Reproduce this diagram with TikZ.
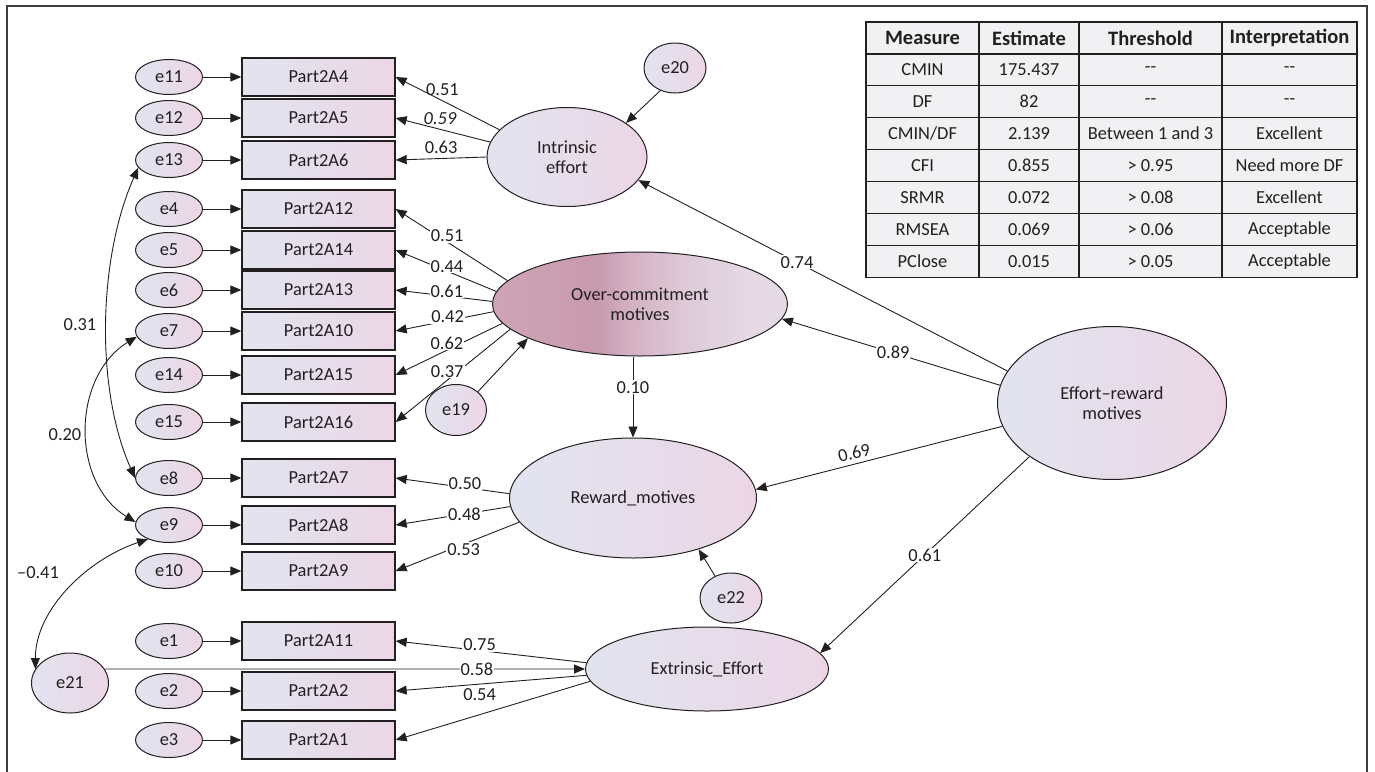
\documentclass[tikz,border=0pt]{standalone}
\usepackage{fontspec}
\setmainfont{Carlito}
\usetikzlibrary{shapes.geometric,arrows.meta}

\definecolor{ink}{HTML}{231F20}
\definecolor{frame}{HTML}{3C3C3C}
\definecolor{boxL}{HTML}{E1E4EF}
\definecolor{boxR}{HTML}{ECD6E6}
\definecolor{ocL}{HTML}{CFA4B6}
\definecolor{ocD}{HTML}{C89AAF}
\definecolor{ocM}{HTML}{D2B0C1}
\definecolor{ocN}{HTML}{DDC8D6}
\definecolor{ocR}{HTML}{E5D9E6}
\definecolor{cellgrey}{HTML}{F1F1F3}

\pgfdeclarehorizontalshading{ocshade}{100bp}{color(0bp)=(ocL); color(25bp)=(ocL); color(43bp)=(ocD); color(48bp)=(ocM); color(57bp)=(ocN); color(68bp)=(ocR); color(100bp)=(ocR)}

\begin{document}
\begin{tikzpicture}[x=1pt,y=-1pt,
    every node/.style={font=\fontsize{18.4}{19.5}\selectfont, text=ink},
    obsbox/.style={draw=ink, line width=1.3pt, left color=boxL, right color=boxR, minimum width=153pt, minimum height=38pt, inner sep=0pt},
    errnode/.style={ellipse, draw=ink, line width=1pt, left color=boxL, right color=boxR, minimum width=67pt, minimum height=35pt, inner sep=0pt},
    latent/.style={ellipse, draw=ink, line width=1pt, left color=boxL, right color=boxR, inner sep=0pt, align=center},
    regarrow/.style={draw=ink, line width=0.9pt, -{Triangle[length=11pt,width=9pt]}},
    corarrow/.style={draw=ink, line width=0.9pt, {Triangle[length=11pt,width=9pt]}-{Triangle[length=11pt,width=9pt]}},
    coeflabel/.style={fill=white, inner sep=1pt},
    cellbox/.style={draw=ink, line width=1.2pt, fill=cellgrey, minimum width=#1, minimum height=31.9pt, inner sep=0pt}]

    \useasboundingbox (0,0) rectangle (1375,771);
    \draw[line width=1.2pt, draw=frame] (7,775) -- (7,6) -- (1367,6) -- (1367,775);

    % error terms and indicators
    \foreach \e/\p/\y in {e11/A4/77, e12/A5/118, e13/A6/160, e4/A12/209, e5/A14/250, e6/A13/290, e7/A10/331, e14/A15/375, e15/A16/422, e8/A7/478, e9/A8/525, e10/A9/571, e1/A11/641, e2/A2/691, e3/A1/740}
    {
        \node[errnode] (\e) at (169,\y) {\e};
        \node[obsbox] (\p) at (318.5,\y) {Part2\p};
        \draw[regarrow] (\e) -- (\p);
    }

    % latent variables
    \node[latent, minimum width=160pt, minimum height=99pt] (ie) at (567,157) {Intrinsic\\effort};
    \node[ellipse, draw=ink, line width=1pt, shade, shading=ocshade, minimum width=295pt, minimum height=104pt, inner sep=0pt, align=center] (oc) at (640,304) {Over-commitment\\motives};
    \node[latent, minimum width=247pt, minimum height=120pt] (rm) at (633,498) {Reward\_motives};
    \node[latent, minimum width=243pt, minimum height=84pt] (ee) at (707,669) {Extrinsic\_Effort};
    \node[latent, minimum width=229pt, minimum height=153pt] (er) at (1112,403) {Effort--reward\\motives};

    \node[errnode, minimum width=62pt, minimum height=50pt] (e20) at (675,68) {e20};
    \node[errnode, minimum width=61pt, minimum height=51pt] (e19) at (456,410) {e19};
    \node[errnode, minimum width=62pt, minimum height=50pt] (e22) at (731,598) {e22};
    \node[errnode, minimum width=77pt, minimum height=60pt] (e21) at (70,683) {e21};

    % loadings
    \draw[regarrow] (ie.158) -- node[pos=.55, above=1pt] (l4) {0.51} (A4.east);
    \draw[regarrow] (ie.169) -- node[pos=.53, above=1pt] (l5) {\textit{0.59}} (A5.east);
    \draw[regarrow] (ie.180) -- node[pos=.5, above=1pt] (l6) {0.63} (A6.east);

    \draw[regarrow] (oc.170) -- node[coeflabel, pos=.54, yshift=6pt] (l12) {0.51} (A12.east);
    \draw[regarrow] (oc.175) -- node[coeflabel, pos=.49, yshift=5pt] (l14) {0.44} (A14.east);
    \draw[regarrow] (oc.179) -- node[coeflabel, pos=.47, yshift=5pt] (l13) {0.61} (A13.east);
    \draw[regarrow] (oc.183) -- node[coeflabel, pos=.47, yshift=4pt] (l10) {0.42} (A10.east);
    \draw[regarrow] (oc.188) -- node[coeflabel, pos=.52, yshift=7pt] (l15) {0.62} (A15.east);
    \draw[regarrow] (oc.191) -- node[coeflabel, pos=.55, yshift=9pt] (l16) {0.37} (A16.east);

    \draw[regarrow] (rm.178) -- node[coeflabel, pos=.39, yshift=4pt] (l7) {0.50} (A7.east);
    \draw[regarrow] (rm.184) -- node[coeflabel, pos=.4] (l8) {0.48} (A8.east);
    \draw[regarrow] (rm.192) -- node[coeflabel, pos=.45, yshift=-5pt] (l9) {0.53} (A9.east);

    \draw[regarrow] (ee.177) -- node[coeflabel, pos=.56, yshift=6pt] (l11) {0.75} (A11.east);
    \draw[regarrow] (ee.183) -- node[coeflabel, pos=.56, yshift=-10pt] (l2) {0.54} (A2.east);
    \draw[regarrow] (ee.186) -- (A1.east);
    \draw[regarrow] (e21.22) -- node[coeflabel, pos=.775] (l21) {0.58} (ee.west);

    % structural paths
    \draw[regarrow] (er.163) -- node[coeflabel, pos=.57] (p74) {0.74} (ie.-18);
    \draw[regarrow] (er.171) -- node[coeflabel, pos=.49] (p89) {0.89} (oc.-6);
    \draw[regarrow] (er.192) -- node[pos=.59, sloped, above=1pt] (p69) {0.69} (rm.4);
    \draw[regarrow] (er.213.5) -- node[coeflabel, pos=.5] (p61) {0.61} (ee.8);
    \draw[regarrow] (rm.north |- oc.south) -- node[coeflabel, pos=.38] (p10) {0.10} (rm.north);

    \draw[regarrow] (e20.237) -- (ie.30);
    \draw[regarrow] (e19.40) -- (oc.197);
    \draw[regarrow] (e22.126) -- (rm.-38);

    % covariances
    \draw[corarrow] (e13.194) .. controls +(-40,90) and +(-40,-90) .. (e8.180);
    \draw[corarrow] (e7.190) .. controls +(-65,40) and +(-65,-40) .. (e9.175);
    \draw[corarrow] (e9.214) .. controls +(-60,20) and +(0,-60) .. (e21.158);
    \node (r31) at (80,325) {0.31};
    \node (r20) at (65,435) {0.20};
    \node (r41) at (38,573) {–0.41};

    % fit table
    \foreach \h/\x/\w [count=\c] in {Measure/922.5/113pt, Estimate/1029/100pt, Threshold/1150.5/143pt, Interpretation/1289.5/135pt}
        \node[cellbox=\w, font=\fontsize{20.5}{22}\selectfont\bfseries] (h\c) at (\x,37.95) {\h};
    \foreach \ms/\es/\th/\ip [count=\row] in {CMIN/175.437/-\kern0pt-/-\kern0pt-, DF/82/-\kern0pt-/-\kern0pt-, {CMIN/DF}/2.139/Between 1 and 3/Excellent, CFI/0.855/> 0.95/Need more DF, SRMR/0.072/> 0.08/Excellent, RMSEA/0.069/> 0.06/Acceptable, PClose/0.015/> 0.05/Acceptable}
    {
        \node[cellbox=113pt] (m\row) at (922.5,{37.95+31.9*\row}) {\ms};
        \node[cellbox=100pt] (s\row) at (1029,{37.95+31.9*\row}) {\es};
        \node[cellbox=143pt] (t\row) at (1150.5,{37.95+31.9*\row}) {\th};
        \node[cellbox=135pt] (i\row) at (1289.5,{37.95+31.9*\row}) {\ip};
    }
\end{tikzpicture}
\end{document}
